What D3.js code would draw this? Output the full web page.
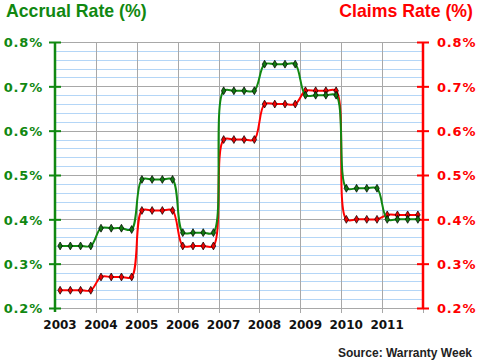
<!DOCTYPE html>
<html>
<head>
<meta charset="utf-8" />
<title>Accrual vs Claims Rate</title>
<script src="https://d3js.org/d3.v7.min.js"></script>
<style type='text/css'>
    body { margin: 0; background: #fff; }
    .ttl { font: bold 17.7px "Liberation Sans", Arial, sans-serif; }
    .tick-lbl { font: bold 13px "DejaVu Sans", Verdana, sans-serif; letter-spacing: 0.8px; }
    .yr { font: bold 12px "DejaVu Sans", Verdana, sans-serif; fill: #111; }
    .src { font: bold 12px "Liberation Sans", Arial, sans-serif; fill: #222; }
</style>
</head>
<body>
<script>
    var width = 480
        , height = 363
        , green = '#118811'
        , red = '#ff0000';

    // quarterly values, four per year
    var years = [2003, 2004, 2005, 2006, 2007, 2008, 2009, 2010, 2011];
    var accrual = [
        0.34, 0.34, 0.34, 0.34,
        0.38, 0.38, 0.38, 0.377,
        0.49, 0.49, 0.49, 0.49,
        0.37, 0.37, 0.37, 0.37,
        0.69, 0.69, 0.69, 0.69,
        0.75, 0.75, 0.75, 0.75,
        0.68, 0.68, 0.68, 0.68,
        0.47, 0.47, 0.47, 0.47,
        0.40, 0.40, 0.40, 0.40];
    var claims = [
        0.24, 0.24, 0.24, 0.24,
        0.27, 0.27, 0.27, 0.27,
        0.42, 0.42, 0.42, 0.42,
        0.34, 0.34, 0.34, 0.34,
        0.58, 0.58, 0.58, 0.58,
        0.66, 0.66, 0.66, 0.66,
        0.69, 0.69, 0.69, 0.69,
        0.40, 0.40, 0.40, 0.40,
        0.41, 0.41, 0.41, 0.41];
    var yTicks = [0.2, 0.3, 0.4, 0.5, 0.6, 0.7, 0.8];
    var yMinor = d3.range(0.22, 0.8, 0.02);

    var svg = d3.select('body').append('svg')
        .attr('width', width)
        .attr('height', height);

    var x = d3.scaleLinear().domain([2003, 2012]).range([55, 423]);
    var y = d3.scaleLinear().domain([0.2, 0.8]).range([308, 42]);

    // minor grid
    svg.append('g').selectAll('line')
        .data(yMinor.filter(d => Math.abs(d * 10 - Math.round(d * 10)) > 0.01))
        .enter().append('line')
        .attr('x1', x(2003)).attr('x2', x(2012))
        .attr('y1', d => Math.round(y(d)) + 0.5).attr('y2', d => Math.round(y(d)) + 0.5)
        .attr('stroke', '#b4d6f7')
        .attr('stroke-width', 1);

    // major grid
    svg.append('g').selectAll('line')
        .data(yTicks)
        .enter().append('line')
        .attr('x1', x(2003)).attr('x2', x(2012))
        .attr('y1', d => Math.round(y(d)) + 0.5).attr('y2', d => Math.round(y(d)) + 0.5)
        .attr('stroke', '#a8a8a8');

    svg.append('g').selectAll('line')
        .data(years.slice(1).concat([2012]))
        .enter().append('line')
        .attr('x1', d => Math.round(x(d)) + 0.5).attr('x2', d => Math.round(x(d)) + 0.5)
        .attr('y1', y(0.8)).attr('y2', y(0.2) + 5)
        .attr('stroke', '#a8a8a8');

    // axes
    var axL = d3.axisLeft(y).tickValues(yTicks).tickSize(6).tickFormat(d => d3.format('.1f')(d) + '%');
    var gL = svg.append('g').attr('transform', `translate(${x(2003)},0)`).call(axL);
    gL.select('.domain').attr('stroke', green).attr('stroke-width', 2.5).attr('d', `M0,${y(0.8)}V${y(0.2) + 4}`);
    gL.selectAll('.tick line').attr('stroke', green).attr('stroke-width', 2).attr('x1', 6).attr('x2', -6);
    gL.selectAll('.tick text').attr('class', 'tick-lbl').attr('fill', green).attr('x', -12).attr('dy', '0.36em');

    var axR = d3.axisRight(y).tickValues(yTicks).tickSize(6).tickFormat(d => d3.format('.1f')(d) + '%');
    var gR = svg.append('g').attr('transform', `translate(${x(2012)},0)`).call(axR);
    gR.select('.domain').attr('stroke', red).attr('stroke-width', 2.5).attr('d', `M0,${y(0.8)}V${y(0.2)}`);
    gR.selectAll('.tick line').attr('stroke', red).attr('stroke-width', 2).attr('x1', -6).attr('x2', 6);
    gR.selectAll('.tick text').attr('class', 'tick-lbl').attr('fill', red).attr('x', 14).attr('dy', '0.36em');

    svg.selectAll('.tick text').attr('font-family', null).attr('font-size', null);

    svg.append('g').selectAll('text')
        .data(years)
        .enter().append('text')
        .attr('class', 'yr')
        .attr('x', d => x(d) + 5)
        .attr('y', 329)
        .attr('text-anchor', 'middle')
        .text(String);

    // series
    var qx = (d, i) => x(2003 + i * 0.25 + 0.125);
    var line = d3.line().x(qx).y(d => y(d)).curve(d3.curveCatmullRom.alpha(0.5));
    var diamond = d3.symbol().type(d3.symbolDiamond).size(18);

    function series(vals, col, dot) {
        var g = svg.append('g');
        g.append('path').datum(vals)
            .attr('d', line)
            .attr('fill', 'none')
            .attr('stroke', col)
            .attr('stroke-width', 2);
        g.selectAll('path.pt').data(vals).enter().append('path')
            .attr('class', 'pt')
            .attr('d', diamond)
            .attr('transform', (d, i) => `translate(${qx(d, i)},${y(d)})`)
            .attr('fill', dot)
            .attr('stroke', '#000')
            .attr('stroke-width', 0.7);
    }
    series(claims, red, '#ee0000');
    series(accrual, green, '#117711');

    // titles
    svg.append('text').attr('class', 'ttl').attr('x', 6).attr('y', 17).attr('fill', green).text('Accrual Rate (%)');
    svg.append('text').attr('class', 'ttl').attr('x', 473).attr('y', 17).attr('fill', red)
        .attr('text-anchor', 'end').text('Claims Rate (%)');
    svg.append('text').attr('class', 'src').attr('x', 472).attr('y', 357)
        .attr('text-anchor', 'end')
        .text('Source: Warranty Week');
</script>
</body>
</html>
